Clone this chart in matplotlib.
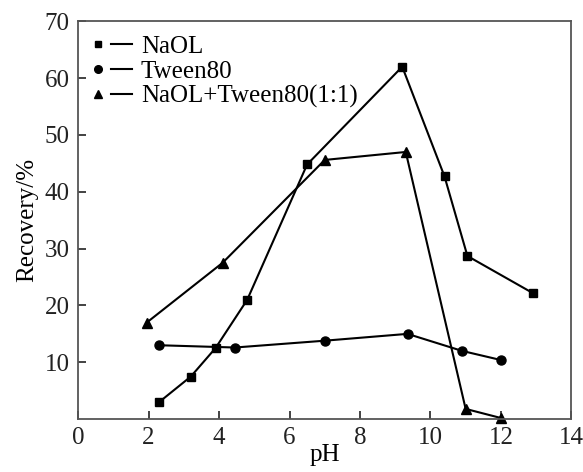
import matplotlib.pyplot as plt
from matplotlib.lines import Line2D
from matplotlib.legend_handler import HandlerTuple

plt.rcParams['font.family'] = ['Liberation Serif', 'DejaVu Serif']

# NaOL
ph_naol = [2.3, 3.2, 3.9, 4.8, 6.5, 9.2, 10.4, 11.05, 12.9]
rec_naol = [3.0, 7.5, 12.5, 21.0, 44.8, 62.0, 42.7, 28.7, 22.2]
# Tween80
ph_tw = [2.3, 4.45, 7.0, 9.35, 10.9, 12.0]
rec_tw = [13.0, 12.6, 13.8, 15.0, 12.0, 10.4]
# NaOL+Tween80(1:1)
ph_mix = [1.95, 4.1, 7.0, 9.3, 11.0, 12.0]
rec_mix = [17.0, 27.5, 45.6, 47.0, 1.8, 0.2]

fig = plt.figure(figsize=(5.83, 4.72), dpi=100)
ax = fig.add_axes([0.134, 0.112, 0.846, 0.843])

ax.plot(ph_naol, rec_naol, color='black', lw=1.5, marker='s', ms=6, clip_on=False)
ax.plot(ph_tw, rec_tw, color='black', lw=1.5, marker='o', ms=6.5, clip_on=False)
ax.plot(ph_mix, rec_mix, color='black', lw=1.5, marker='^', ms=6.5, clip_on=False)

ax.set_xlim(0, 14)
ax.set_ylim(0, 70)
ax.set_xticks([0, 2, 4, 6, 8, 10, 12, 14])
ax.set_yticks([10, 20, 30, 40, 50, 60, 70])
ax.tick_params(direction='in', length=6, width=1.2, labelsize=18, colors='#222222',
               top=False, right=False, pad=6)
for s in ax.spines.values():
    s.set_color('#555555')
    s.set_linewidth(1.3)

ax.set_xlabel('pH', fontsize=18, labelpad=-4)
ax.set_ylabel('Recovery/%', fontsize=18, labelpad=5)

handles = []
for m, ms in [('s', 5), ('o', 5.5), ('^', 5.5)]:
    mk = Line2D([], [], color='black', marker=m, ms=ms, ls='none')
    ln = Line2D([], [], color='black', lw=1.5)
    handles.append((mk, ln))
ax.legend(handles, ['NaOL', 'Tween80', 'NaOL+Tween80(1:1)'],
          handler_map={tuple: HandlerTuple(ndivide=2, pad=0.1)},
          loc='upper left', frameon=False, fontsize=18, handlelength=1.8,
          handletextpad=0.35, labelspacing=0.1, borderpad=0.0,
          borderaxespad=0.0, bbox_to_anchor=(0.018, 0.965))

fig.savefig('out.png', dpi=100)
